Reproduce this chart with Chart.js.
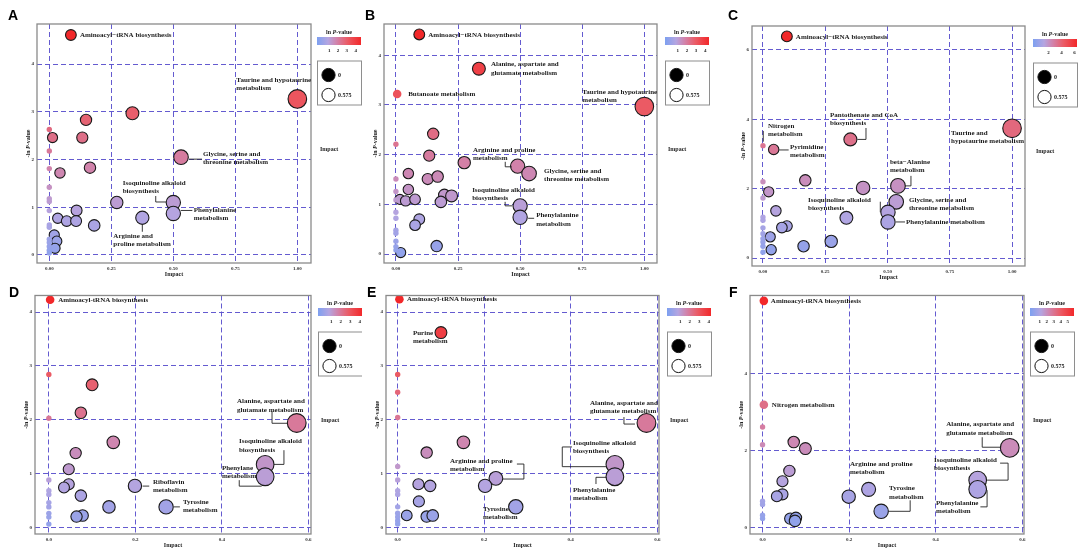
<!DOCTYPE html>
<html>
<head>
<meta charset="utf-8">
<script src="https://cdn.jsdelivr.net/npm/chart.js@4.4.1/dist/chart.umd.min.js"></script>
<style>
html, body { margin: 0; padding: 0; background: #fff; }
body { width: 1084px; height: 555px; position: relative; overflow: hidden; }
canvas { position: absolute; }
</style>
</head>
<body>
<canvas id="cA"></canvas>
<canvas id="cB"></canvas>
<canvas id="cC"></canvas>
<canvas id="cD"></canvas>
<canvas id="cE"></canvas>
<canvas id="cF"></canvas>
<script>
// ---- data: impact (x) and -ln P (y) per pathway ----
const aNames = ['Aminoacyl−tRNA biosynthesis', 'Taurine and hypotaurine metabolism', 'Glycine, serine and threonine metabolism',
	'Isoquinoline alkaloid biosynthesis', 'Phenylalanine metabolism', 'Arginine and proline metabolism'];
const aImpact = [0.087, 1.0, 0.531, 0.5, 0.5, 0.375, 0.335, 0.148, 0.013, 0.133, 0.043, 0.164, 0.272, 0.11, 0.034, 0.07, 0.108, 0.181, 0.02, 0.03, 0.023,
	0, 0, 0, 0, 0, 0, 0, 0, 0, 0, 0, 0, 0, 0];
const aScore = [4.61, 3.27, 2.05, 1.10, 0.87, 0.78, 2.97, 2.83, 2.46, 2.46, 1.72, 1.83, 1.10, 0.93, 0.77, 0.71, 0.71, 0.62, 0.42, 0.29, 0.14,
	2.63, 2.18, 1.81, 1.42, 1.18, 1.12, 0.93, 0.63, 0.58, 0.33, 0.26, 0.18, 0.10, 0.04];

const bNames = ['Aminoacyl−tRNA biosynthesis', 'Alanine, aspartate and glutamate metabolism', 'Butanoate metabolism',
	'Taurine and hypotaurine metabolism', 'Arginine and proline metabolism', 'Glycine, serine and threonine metabolism',
	'Isoquinoline alkaloid biosynthesis', 'Phenylalanine metabolism'];
const bImpact = [0.094, 0.334, 0.005, 1.0, 0.49, 0.536, 0.5, 0.5, 0.150, 0.134, 0.275, 0.05, 0.128, 0.168, 0.05, 0.016, 0.039, 0.077, 0.195, 0.224, 0.181, 0.094, 0.077, 0.164, 0.019,
	0, 0, 0, 0, 0, 0, 0, 0, 0, 0, 0];
const bScore = [4.42, 3.73, 3.22, 2.97, 1.77, 1.62, 0.97, 0.74, 2.42, 1.98, 1.84, 1.62, 1.51, 1.56, 1.30, 1.10, 1.07, 1.10, 1.19, 1.17, 1.05, 0.70, 0.58, 0.16, 0.03,
	2.21, 1.51, 1.26, 1.09, 0.84, 0.72, 0.48, 0.42, 0.26, 0.15, 0.08];

const cNames = ['Aminoacyl−tRNA biosynthesis', 'Pantothenate and CoA biosynthesis', 'Taurine and hypotaurine metabolism',
	'Nitrogen metabolism', 'Pyrimidine metabolism', 'beta−Alanine metabolism', 'Glycine, serine and threonine metabolism',
	'Isoquinoline alkaloid biosynthesis', 'Phenylalanine metabolism'];
const cImpact = [0.096, 0.351, 1.0, 0, 0.043, 0.542, 0.535, 0.502, 0.502, 0.17, 0.402, 0.023, 0.052, 0.335, 0.096, 0.076, 0.029, 0.163, 0.274, 0.033,
	0, 0, 0, 0, 0, 0, 0, 0, 0, 0];
const cScore = [6.39, 3.42, 3.74, 3.24, 3.13, 2.08, 1.62, 1.32, 1.04, 2.24, 2.02, 1.91, 1.36, 1.16, 0.92, 0.88, 0.61, 0.34, 0.48, 0.24,
	2.20, 1.73, 1.18, 1.09, 0.87, 0.70, 0.56, 0.46, 0.34, 0.17];

const dNames = ['Aminoacyl-tRNA biosynthesis', 'Alanine, aspartate and glutamate metabolism', 'Isoquinoline alkaloid biosynthesis',
	'Phenylane metabolism', 'Riboflavin metabolism', 'Tyrosine metabolism'];
const dImpact = [0.003, 0.573, 0.5, 0.5, 0.199, 0.271, 0.1, 0.074, 0.149, 0.062, 0.046, 0.046, 0.035, 0.074, 0.139, 0.078, 0.064,
	0, 0, 0, 0, 0, 0, 0, 0, 0, 0];
const dScore = [4.23, 1.94, 1.17, 0.94, 0.77, 0.38, 2.65, 2.13, 1.58, 1.38, 1.08, 0.80, 0.74, 0.59, 0.38, 0.22, 0.20,
	2.84, 2.03, 0.88, 0.68, 0.61, 0.46, 0.38, 0.26, 0.19, 0.06];

const eNames = ['Aminoacyl-tRNA biosynthesis', 'Purine metabolism', 'Alanine, aspartate and glutamate metabolism',
	'Isoquinoline alkaloid biosynthesis', 'Phenylalanine metabolism', 'Arginine and proline metabolism', 'Tyrosine metabolism'];
const eImpact = [0.004, 0.1, 0.575, 0.502, 0.502, 0.227, 0.273, 0.152, 0.067, 0.202, 0.048, 0.075, 0.049, 0.021, 0.067, 0.081,
	0, 0, 0, 0, 0, 0, 0, 0, 0, 0, 0, 0];
const eScore = [4.24, 3.62, 1.94, 1.17, 0.94, 0.91, 0.38, 1.58, 1.39, 0.77, 0.80, 0.77, 0.48, 0.22, 0.20, 0.22,
	2.84, 2.51, 2.04, 1.13, 0.88, 0.68, 0.61, 0.38, 0.26, 0.19, 0.12, 0.06];

const fNames = ['Aminoacyl-tRNA biosynthesis', 'Nitrogen metabolism', 'Alanine, aspartate and glutamate metabolism',
	'Isoquinoline alkaloid biosynthesis', 'Phenylalanine metabolism', 'Arginine and proline metabolism', 'Tyrosine metabolism'];
const fImpact = [0.003, 0.003, 0.571, 0.497, 0.497, 0.245, 0.274, 0.072, 0.099, 0.062, 0.046, 0.046, 0.033, 0.199, 0.064, 0.077, 0.075,
	0, 0, 0, 0, 0, 0];
const fScore = [5.9, 3.2, 2.08, 1.24, 1.0, 1.0, 0.43, 2.23, 2.06, 1.48, 1.21, 0.87, 0.82, 0.81, 0.24, 0.26, 0.18,
	2.62, 2.16, 0.69, 0.61, 0.33, 0.24];

// axis / legend tick labels
const xTicksWide = [0, 0.25, 0.5, 0.75, 1];
const xTicksNarrow = [0, 0.2, 0.4, 0.6];
const yTicks4 = [0, 1, 2, 3, 4];
const yTicks6 = [0, 2, 4, 6];
const cbTicks4 = [1, 2, 3, 4];
const cbTicks6 = [2, 4, 6];
const cbTicks5 = [1, 2, 3, 4, 5];
const sizeLegend = ['0', '0.575'];

// labels: point index, words on first line, text offset and leader path (px from bubble centre)
const aNotes = [
	{ i: 0, t: [9, 0] },
	{ i: 1, wrap: 3, t: [-61, -19] },
	{ i: 2, wrap: 3, t: [22, -3], lead: [[8, 2], [21, 2]] },
	{ i: 3, wrap: 2, t: [-50.6, -19.5], lead: [[-17.6, -6.5], [-17.6, -0.5], [-7, -0.5]] },
	{ i: 4, wrap: 1, t: [20.4, -3.5], lead: [[7.5, -3], [19, -3]] },
	{ i: 5, wrap: 2, t: [-29, 18], lead: [[0, 7], [0, 14]] }
];
const bNotes = [
	{ i: 0, t: [9, 0.5] },
	{ i: 1, wrap: 3, t: [12, -4.5] },
	{ i: 2, t: [11, 0] },
	{ i: 3, wrap: 3, t: [-62, -14.4] },
	{ i: 4, wrap: 3, t: [-44.7, -16], lead: [[-12.4, -4.3], [-12.4, 0.7], [-6, 0.7]] },
	{ i: 5, wrap: 3, t: [15, -2.5] },
	{ i: 6, wrap: 2, t: [-48, -15.8], lead: [[-15, -4], [-15, 0], [-8, 0]] },
	{ i: 7, wrap: 1, t: [16, -2], lead: [[8, 1], [14, 1]] }
];
const cNotes = [
	{ i: 0, t: [9, 0.5] },
	{ i: 1, wrap: 3, t: [-20.4, -24.4], lead: [[7, 0], [15.6, 0], [15.6, -11.4]] },
	{ i: 2, wrap: 2, t: [-61, 4.7] },
	{ i: 3, wrap: 1, t: [5, -19.7], lead: [[0.3, -14.7], [0.3, -4]] },
	{ i: 4, wrap: 1, t: [16.3, -2.5], lead: [[5.5, 0.5], [15, 0.5]] },
	{ i: 5, wrap: 1, t: [-8, -24], lead: [[7, 0], [13, 0], [13, -10]] },
	{ i: 6, wrap: 3, t: [12.8, -1.8] },
	{ i: 7, wrap: 2, t: [-80, -12.2], lead: [[-7.7, -10.5], [-7.7, 0]] },
	{ i: 8, t: [18, 0], lead: [[8, 0], [17, 0]] }
];
const dNotes = [
	{ i: 0, t: [8, 0] },
	{ i: 1, wrap: 3, t: [-59.7, -21.7], lead: [[-24.7, -11.7], [-24.7, 0.3], [-9.7, 0.3]] },
	{ i: 2, wrap: 2, t: [-26.2, -23.2], lead: [[8.8, 0], [18.8, 0], [18.8, -14.2]] },
	{ i: 3, wrap: 1, t: [-43.2, -8.6], lead: [[-25.9, 3.4], [-25.9, 9.4], [-3.5, 9.4]] },
	{ i: 4, wrap: 1, t: [18, -3.8], lead: [[7.7, 0.2], [14.3, 0.2]] },
	{ i: 5, wrap: 1, t: [16.8, -4.8], lead: [[7.8, 0], [13.8, 0]] }
];
const eNotes = [
	{ i: 0, t: [7.6, 0] },
	{ i: 1, wrap: 1, t: [-28, 0.5] },
	{ i: 2, wrap: 3, t: [-56.5, -19.9], lead: [[-22.5, -5.9], [-22.5, 1.1], [-11.5, 1.1]] },
	{ i: 3, wrap: 2, t: [-41.9, -21.4], lead: [[-42.9, -17.4], [-52.6, -17.4], [-52.6, 2.3], [-7.9, 2.3]] },
	{ i: 4, wrap: 1, t: [-41.9, 13.3], lead: [[-8.2, 0.6], [-18.9, 0.6], [-18.9, 7.3]] },
	{ i: 5, wrap: 3, t: [-45.9, -17.3], lead: [[7, 0.7], [28, 0.7], [28, -14.3], [21, -14.3]] },
	{ i: 6, wrap: 1, t: [-32.8, 2.1] }
];
const fNotes = [
	{ i: 0, t: [7, 0.5] },
	{ i: 1, t: [8, 0] },
	{ i: 2, wrap: 3, t: [-63.5, -23.6], lead: [[-27.5, -10.6], [-27.5, -0.6], [-8.5, -0.6]] },
	{ i: 3, wrap: 2, t: [-43.6, -20], lead: [[9.4, 0], [30.4, 0], [30.4, -17], [22.4, -17]] },
	{ i: 4, wrap: 1, t: [-41.6, 13.8], lead: [[9.4, 0.8], [9.4, 17.5], [2.7, 17.5]] },
	{ i: 5, wrap: 3, t: [-18.6, -25.2] },
	{ i: 6, wrap: 1, t: [7.9, -23.1], lead: [[7.5, 0], [29, 0], [29, -11]] }
];

// ---- panel layout (absolute page pixels) ----
const panels = [
	{ id: 'cA', letter: 'A', at: [8, 20], names: aNames, impact: aImpact, score: aScore, notes: aNotes,
		canvas: [0, 0, 362, 285], box: [37, 24, 311, 263], xr: [-0.0496, 1.055], yr: [-0.168, 4.84],
		xTicks: xTicksWide, dec: 2, yTicks: yTicks4, rad: [5, 4.3], leg: [317, 37], cb: cbTicks4 },
	{ id: 'cB', letter: 'B', at: [365, 20], names: bNames, impact: bImpact, score: bScore, notes: bNotes,
		canvas: [362, 0, 360, 285], box: [384, 24, 657, 263], xr: [-0.048, 1.051], yr: [-0.18, 4.63],
		xTicks: xTicksWide, dec: 2, yTicks: yTicks4, rad: [5, 4.3], leg: [665, 37], cb: cbTicks4 },
	{ id: 'cC', letter: 'C', at: [728, 20], names: cNames, impact: cImpact, score: cScore, notes: cNotes,
		canvas: [722, 0, 362, 285], box: [752, 26, 1025, 266], xr: [-0.044, 1.052], yr: [-0.23, 6.69],
		xTicks: xTicksWide, dec: 2, yTicks: yTicks6, rad: [5, 4.3], leg: [1033, 39], cb: cbTicks6 },
	{ id: 'cD', letter: 'D', at: [9, 297], names: dNames, impact: dImpact, score: dScore, notes: dNotes,
		canvas: [0, 285, 362, 270], box: [35, 295, 311, 534], xr: [-0.032, 0.606], yr: [-0.124, 4.31],
		xTicks: xTicksNarrow, dec: 1, yTicks: yTicks4, rad: [5.2, 7.3], leg: [318, 308], cb: cbTicks4 },
	{ id: 'cE', letter: 'E', at: [367, 297], names: eNames, impact: eImpact, score: eScore, notes: eNotes,
		canvas: [362, 285, 360, 270], box: [386, 295, 659, 534], xr: [-0.027, 0.604], yr: [-0.125, 4.31],
		xTicks: xTicksNarrow, dec: 1, yTicks: yTicks4, rad: [5.2, 7.3], leg: [667, 308], cb: cbTicks4 },
	{ id: 'cF', letter: 'F', at: [729, 297], names: fNames, impact: fImpact, score: fScore, notes: fNotes,
		canvas: [722, 285, 362, 270], box: [750, 295, 1024, 534], xr: [-0.029, 0.604], yr: [-0.16, 6.04],
		xTicks: xTicksNarrow, dec: 1, yTicks: [0, 2, 4], rad: [5.2, 7.3], leg: [1030, 308], cb: cbTicks5 }
];

const STOPS = [[0, [125, 160, 240]], [0.25, [180, 165, 225]], [0.45, [210, 130, 170]], [0.7, [235, 90, 100]], [1, [242, 40, 42]]];
const LO = -0.4;
function heat(t) {
	t = Math.max(0, Math.min(1, t));
	for (let i = 1; i < STOPS.length; i++) {
		if (t <= STOPS[i][0]) {
			const [t0, c0] = STOPS[i - 1], [t1, c1] = STOPS[i];
			const f = (t - t0) / (t1 - t0);
			return 'rgb(' + c0.map((c, k) => Math.round(c + (c1[k] - c) * f)).join(',') + ')';
		}
	}
	return 'rgb(242,40,42)';
}

const SERIF = '"Liberation Serif", "DejaVu Serif", serif';
const GRID = 'rgba(92,82,205,0.95)';

// text with an italic P, e.g. "-ln P-value"
function pText(ctx, pre, x, y, size, align) {
	const parts = [[pre, false], ['P', true], ['-value', false]];
	const f = it => (it ? 'italic ' : '') + 'bold ' + size + 'px ' + SERIF;
	let w = 0;
	parts.forEach(([s, it]) => { ctx.font = f(it); w += ctx.measureText(s).width; });
	let cx = align === 'center' ? x - w / 2 : x;
	ctx.textAlign = 'left';
	parts.forEach(([s, it]) => { ctx.font = f(it); ctx.fillText(s, cx, y); cx += ctx.measureText(s).width; });
}

const decor = {
	id: 'decor',
	afterDraw(chart, args, o) {
		const p = o.panel, ctx = chart.ctx, a = chart.chartArea;
		const xs = chart.scales.x, ys = chart.scales.y;
		ctx.save();
		ctx.strokeStyle = '#8a8a8a'; ctx.lineWidth = 1.3;
		ctx.strokeRect(a.left, a.top, a.right - a.left, a.bottom - a.top);

		// pathway labels
		ctx.fillStyle = '#1c1c1c'; ctx.strokeStyle = '#222'; ctx.lineWidth = 0.9;
		ctx.textBaseline = 'middle'; ctx.textAlign = 'left';
		ctx.font = 'bold 7px ' + SERIF;
		for (const n of p.notes) {
			const px = xs.getPixelForValue(p.impact[n.i]), py = ys.getPixelForValue(p.score[n.i]);
			const words = p.names[n.i].split(' ');
			const lines = n.wrap ? [words.slice(0, n.wrap).join(' '), words.slice(n.wrap).join(' ')] : [p.names[n.i]];
			lines.forEach((s, k) => ctx.fillText(s, px + n.t[0], py + n.t[1] + k * 8.5));
			if (n.lead) {
				ctx.beginPath();
				n.lead.forEach(([dx, dy], k) => k ? ctx.lineTo(px + dx, py + dy) : ctx.moveTo(px + dx, py + dy));
				ctx.stroke();
			}
		}

		// axis titles
		ctx.fillStyle = '#222';
		ctx.font = 'bold 6px ' + SERIF; ctx.textAlign = 'center';
		ctx.fillText('Impact', (a.left + a.right) / 2, a.bottom + 11);
		ctx.save();
		ctx.translate(a.left - 9, (a.top + a.bottom) / 2);
		ctx.rotate(-Math.PI / 2);
		pText(ctx, '-ln ', 0, 0, 6, 'center');
		ctx.restore();

		// legends, letter (absolute coordinates)
		ctx.translate(-p.canvas[0], -p.canvas[1]);
		const [lx, ly] = p.leg, bw = 44, hi = Math.max(...p.score);
		ctx.fillStyle = '#222';
		pText(ctx, 'ln ', lx + 22, ly - 5, 6, 'center');
		const g = ctx.createLinearGradient(lx, 0, lx + bw, 0);
		STOPS.forEach(([t]) => g.addColorStop(t, heat(t)));
		ctx.fillStyle = g; ctx.fillRect(lx, ly, bw, 8);
		ctx.fillStyle = '#222'; ctx.font = 'bold 5px ' + SERIF; ctx.textAlign = 'center';
		p.cb.forEach(v => ctx.fillText(String(v), lx + bw * (v - LO) / (hi - LO), ly + 14));

		ctx.strokeStyle = '#8e8e8e'; ctx.lineWidth = 1;
		ctx.strokeRect(lx + 0.5, ly + 24, bw, 44);
		ctx.strokeStyle = '#111'; ctx.lineWidth = 1;
		[['#000', ly + 38], ['#fff', ly + 58]].forEach(([c, cy], k) => {
			ctx.beginPath(); ctx.arc(lx + 11.5, cy, 6.6, 0, Math.PI * 2);
			ctx.fillStyle = c; ctx.fill(); ctx.stroke();
			ctx.fillStyle = '#222'; ctx.textAlign = 'left'; ctx.font = 'bold 6px ' + SERIF;
			ctx.fillText(sizeLegend[k], lx + 21, cy);
		});
		ctx.font = 'bold 6px ' + SERIF; ctx.textAlign = 'left';
		ctx.fillText('Impact', lx + 3, ly + 112);

		ctx.font = 'bold 14px "Liberation Sans", Arial, sans-serif';
		ctx.textBaseline = 'alphabetic'; ctx.fillStyle = '#000';
		ctx.fillText(p.letter, p.at[0], p.at[1]);
		ctx.restore();
	}
};

for (const p of panels) {
	const [cx, cy, cw, ch] = p.canvas, [L, T, R, B] = p.box;
	const el = document.getElementById(p.id);
	el.width = cw; el.height = ch;
	el.style.left = cx + 'px'; el.style.top = cy + 'px';
	const yW = 10, xH = 12, hi = Math.max(...p.score);
	const pts = p.impact.map((v, i) => ({ x: v, y: p.score[i] }));
	new Chart(el, {
		type: 'bubble',
		data: { datasets: [{
			data: pts,
			clip: false,
			backgroundColor: c => heat((c.raw.y - LO) / (hi - LO)),
			borderColor: '#1a1a1a',
			borderWidth: c => c.raw.x < 0.01 ? 0 : 1.1,
			radius: c => c.raw.x === 0 ? 2.7 : c.raw.x < 0.01 ? 4.3 : p.rad[0] + p.rad[1] * c.raw.x
		}] },
		options: {
			responsive: false, animation: false,
			events: [],
			layout: { padding: { left: L - cx - yW, top: T - cy, right: cx + cw - R, bottom: cy + ch - B - xH } },
			plugins: { legend: { display: false }, tooltip: { enabled: false }, decor: { panel: p } },
			scales: {
				x: {
					type: 'linear', min: p.xr[0], max: p.xr[1],
					afterBuildTicks: s => { s.ticks = p.xTicks.map(v => ({ value: v })); },
					afterFit: s => { s.height = xH; },
					ticks: { callback: v => v.toFixed(p.dec), font: { size: 5, family: SERIF, weight: 'bold' }, color: '#333', padding: 3, maxRotation: 0 },
					grid: { color: GRID, lineWidth: 1, drawTicks: false },
					border: { display: false, dash: [5, 3] }
				},
				y: {
					type: 'linear', min: p.yr[0], max: p.yr[1],
					afterBuildTicks: s => { s.ticks = p.yTicks.map(v => ({ value: v })); },
					afterFit: s => { s.width = yW; },
					ticks: { callback: v => String(v), font: { size: 5, family: SERIF, weight: 'bold' }, color: '#333', padding: 3 },
					grid: { color: GRID, lineWidth: 1, drawTicks: false },
					border: { display: false, dash: [5, 3] }
				}
			}
		},
		plugins: [decor]
	});
}
</script>
</body>
</html>
